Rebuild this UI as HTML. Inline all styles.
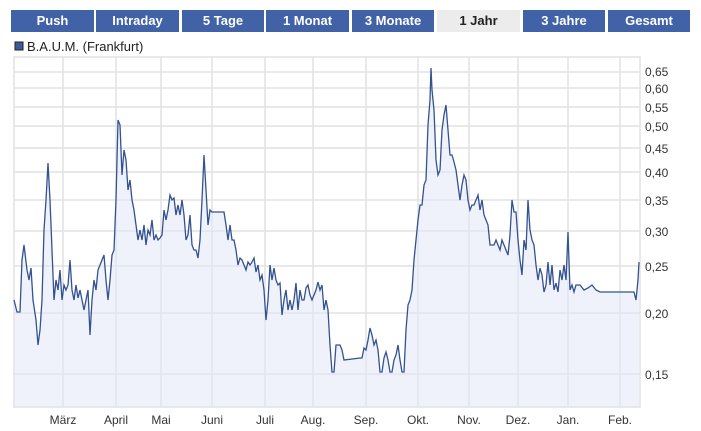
<!DOCTYPE html>
<html><head><meta charset="utf-8"><style>
body{margin:0;width:701px;height:431px;background:#fff;font-family:"Liberation Sans",sans-serif;overflow:hidden}
.tab{position:absolute;top:10px;height:22px;line-height:22px;background:#4262a8;color:#fff;font-weight:bold;font-size:13px;text-align:center}
.sel{background:#ececec;color:#222}
</style></head><body>
<div class="tab" style="left:11px;width:83px">Push</div>
<div class="tab" style="left:96px;width:83px">Intraday</div>
<div class="tab" style="left:182px;width:82px">5 Tage</div>
<div class="tab" style="left:266px;width:83px">1 Monat</div>
<div class="tab" style="left:352px;width:82px">3 Monate</div>
<div class="tab sel" style="left:437px;width:83px">1 Jahr</div>
<div class="tab" style="left:523px;width:82px">3 Jahre</div>
<div class="tab" style="left:608px;width:82px">Gesamt</div>
<svg width="701" height="431" style="position:absolute;left:0;top:0" font-family="Liberation Sans, sans-serif">
<rect x="15" y="42" width="8" height="8" fill="#3b5a9a" stroke="#222" stroke-width="1"/>
<text x="27" y="51" font-size="13" fill="#222">B.A.U.M. (Frankfurt)</text>
<g stroke="#e2e2e2" stroke-width="1.5" fill="none">
<rect x="14" y="57" width="626" height="350"/>
<path d="M63 57V407M116 57V407M161 57V407M212 57V407M265 57V407M313 57V407M366 57V407M418 57V407M469 57V407M518 57V407M568 57V407M620 57V407"/>
<path d="M14 72H640M14 88H640M14 107H640M14 126H640M14 148H640M14 172H640M14 200H640M14 231H640M14 266H640M14 313H640M14 374H640"/>
</g>
<polygon fill="#dfe5f5" fill-opacity="0.5" points="14,407 14,300 17,312 20,312 22,260 24,245 27,270 29,280 31,268 33,300 36,320 38,345 40,330 42,300 44,230 46,200 48,163 50,200 52,250 54,300 56,280 58,290 60,270 62,300 64,285 66,290 68,285 70,260 72,290 74,300 76,285 78,298 80,290 82,300 84,310 86,300 88,290 90,335 92,300 94,280 96,290 98,270 100,265 102,260 104,255 106,280 108,300 110,280 112,255 114,250 116,200 118,120 120,125 122,175 124,150 126,160 128,190 130,180 132,200 134,210 136,225 138,240 140,230 142,240 144,225 146,245 148,230 150,235 152,220 154,240 156,235 158,240 160,238 162,235 164,210 166,220 168,210 170,195 172,200 174,198 176,215 178,205 180,215 182,200 184,215 186,240 188,235 190,215 192,245 194,250 196,250 198,258 200,240 202,200 204,155 206,190 208,225 210,210 212,212 224,212 226,225 228,240 230,225 232,240 234,240 236,250 238,265 240,258 242,260 244,265 246,270 248,262 250,265 252,262 254,258 256,272 258,265 260,280 262,275 264,290 266,320 268,300 270,265 272,280 274,268 276,280 278,285 280,283 282,315 284,300 286,290 288,310 290,300 292,310 294,300 296,283 298,310 300,290 302,300 304,300 306,288 308,285 310,295 312,300 314,295 316,290 318,282 320,290 322,285 324,310 326,300 328,310 330,345 332,372 334,372 336,345 340,345 342,350 344,360 360,358 362,358 364,348 366,350 368,340 370,328 372,335 374,345 376,340 378,350 380,372 382,372 384,358 386,352 388,360 390,372 392,372 394,360 396,355 398,345 400,360 402,372 404,372 406,330 408,305 410,300 412,290 414,260 416,240 418,220 420,205 422,205 424,185 426,180 428,125 430,100 431,68 432,90 434,110 436,160 438,175 440,170 442,130 444,115 446,105 448,130 450,155 452,155 454,162 456,170 458,185 460,200 462,185 464,175 466,180 468,200 470,210 472,205 474,205 476,200 478,195 480,210 482,200 484,215 486,220 488,225 490,245 494,245 496,240 498,245 500,250 502,240 504,245 506,250 508,255 510,235 512,200 514,212 516,212 518,240 520,260 522,275 524,240 526,250 528,200 530,230 532,240 534,245 536,265 538,280 540,268 542,275 544,292 546,285 548,262 550,285 552,265 554,290 556,283 558,292 560,270 562,280 564,265 566,280 568,232 570,290 572,285 574,292 576,285 580,285 584,290 588,288 592,285 596,290 600,292 634,292 636,300 638,280 639,262 639,407"/>
<polyline fill="none" stroke="#34528f" stroke-width="1.3" points="14,300 17,312 20,312 22,260 24,245 27,270 29,280 31,268 33,300 36,320 38,345 40,330 42,300 44,230 46,200 48,163 50,200 52,250 54,300 56,280 58,290 60,270 62,300 64,285 66,290 68,285 70,260 72,290 74,300 76,285 78,298 80,290 82,300 84,310 86,300 88,290 90,335 92,300 94,280 96,290 98,270 100,265 102,260 104,255 106,280 108,300 110,280 112,255 114,250 116,200 118,120 120,125 122,175 124,150 126,160 128,190 130,180 132,200 134,210 136,225 138,240 140,230 142,240 144,225 146,245 148,230 150,235 152,220 154,240 156,235 158,240 160,238 162,235 164,210 166,220 168,210 170,195 172,200 174,198 176,215 178,205 180,215 182,200 184,215 186,240 188,235 190,215 192,245 194,250 196,250 198,258 200,240 202,200 204,155 206,190 208,225 210,210 212,212 224,212 226,225 228,240 230,225 232,240 234,240 236,250 238,265 240,258 242,260 244,265 246,270 248,262 250,265 252,262 254,258 256,272 258,265 260,280 262,275 264,290 266,320 268,300 270,265 272,280 274,268 276,280 278,285 280,283 282,315 284,300 286,290 288,310 290,300 292,310 294,300 296,283 298,310 300,290 302,300 304,300 306,288 308,285 310,295 312,300 314,295 316,290 318,282 320,290 322,285 324,310 326,300 328,310 330,345 332,372 334,372 336,345 340,345 342,350 344,360 360,358 362,358 364,348 366,350 368,340 370,328 372,335 374,345 376,340 378,350 380,372 382,372 384,358 386,352 388,360 390,372 392,372 394,360 396,355 398,345 400,360 402,372 404,372 406,330 408,305 410,300 412,290 414,260 416,240 418,220 420,205 422,205 424,185 426,180 428,125 430,100 431,68 432,90 434,110 436,160 438,175 440,170 442,130 444,115 446,105 448,130 450,155 452,155 454,162 456,170 458,185 460,200 462,185 464,175 466,180 468,200 470,210 472,205 474,205 476,200 478,195 480,210 482,200 484,215 486,220 488,225 490,245 494,245 496,240 498,245 500,250 502,240 504,245 506,250 508,255 510,235 512,200 514,212 516,212 518,240 520,260 522,275 524,240 526,250 528,200 530,230 532,240 534,245 536,265 538,280 540,268 542,275 544,292 546,285 548,262 550,285 552,265 554,290 556,283 558,292 560,270 562,280 564,265 566,280 568,232 570,290 572,285 574,292 576,285 580,285 584,290 588,288 592,285 596,290 600,292 634,292 636,300 638,280 639,262"/>
<g font-size="12" fill="#333" text-anchor="middle">
<text x="63" y="424">März</text><text x="116" y="424">April</text><text x="161" y="424">Mai</text><text x="212" y="424">Juni</text><text x="265" y="424">Juli</text><text x="313" y="424">Aug.</text><text x="366" y="424">Sep.</text><text x="418" y="424">Okt.</text><text x="469" y="424">Nov.</text><text x="518" y="424">Dez.</text><text x="568" y="424">Jan.</text><text x="620" y="424">Feb.</text>
</g>
<g font-size="12" fill="#333">
<text x="645" y="76">0,65</text><text x="645" y="93">0,60</text><text x="645" y="112">0,55</text><text x="645" y="131">0,50</text><text x="645" y="153">0,45</text><text x="645" y="177">0,40</text><text x="645" y="205">0,35</text><text x="645" y="236">0,30</text><text x="645" y="271">0,25</text><text x="645" y="318">0,20</text><text x="645" y="379">0,15</text>
</g>
</svg>
</body></html>
